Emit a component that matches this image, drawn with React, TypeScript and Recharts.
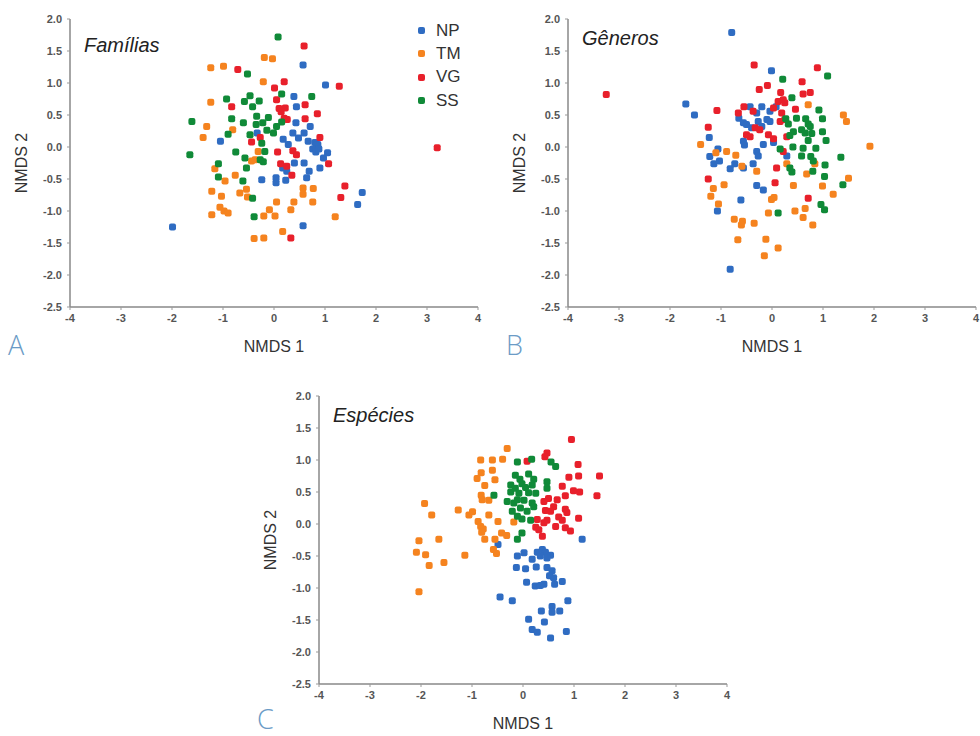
import React from 'react'
import { ScatterChart, Scatter, XAxis, YAxis } from 'recharts'

type Pt = [number, number]

// Famílias
const famNP: Pt[] = [
  [0.57, 1.28], [1.01, 0.97], [0.39, 0.79], [0.44, 0.63], [0.43, 0.38], [0.59, 0.22], [0.71, 0.32],
  [0.37, 0.22], [0.48, 0.14], [-0.33, 0.22], [-1.05, 0.09], [0.18, 0.12], [0.28, 0.04], [0.67, 0.09],
  [0.8, 0.07], [0.86, 0.04], [0.76, -0.03], [0.82, -0.08], [0.88, -0.03], [1.05, -0.09], [0.97, -0.17],
  [0.9, -0.33], [0.59, -0.25], [0.69, -0.38], [0.64, -0.48], [0.17, -0.33], [0.25, -0.38], [0.4, -0.25],
  [-0.24, -0.51], [0.04, -0.48], [0.04, -0.56], [0.23, -0.52], [-1.99, -1.25], [0.57, -1.23],
  [1.73, -0.71], [1.64, -0.9],
]
const famTM: Pt[] = [
  [-0.19, 1.4], [-0.03, 1.38], [-1.24, 1.24], [-0.99, 1.26], [-0.21, 1.02], [-1.24, 0.7], [-1.32, 0.32],
  [-1.39, 0.15], [-0.81, 0.27], [-0.31, -0.07], [-0.37, -0.2], [-0.44, -0.22], [-1.16, -0.34],
  [-0.96, -0.53], [-0.76, -0.44], [-1.22, -0.69], [-1.03, -0.77], [-0.67, -0.72], [-0.54, -0.66],
  [-0.52, -0.78], [-1.06, -0.94], [-0.98, -1.0], [-0.9, -1.03], [-1.22, -1.06], [-0.2, -1.08],
  [0.02, -1.08], [-0.09, -0.98], [0.05, -0.86], [0.39, -0.86], [0.33, -0.98], [0.57, -0.64],
  [0.57, -0.74], [0.77, -0.65], [0.76, -0.86], [1.2, -1.09], [0.17, -1.32], [-0.39, -1.43], [-0.2, -1.42],
]
const famVG: Pt[] = [
  [0.59, 1.58], [-0.71, 1.21], [0.2, 1.02], [1.28, 0.95], [0.01, 0.92], [-0.83, 0.63], [0.05, 0.74],
  [0.1, 0.6], [0.22, 0.61], [0.14, 0.55], [0.61, 0.66], [0.2, 0.45], [0.26, 0.43], [0.61, 0.44],
  [0.85, 0.52], [0.9, 0.15], [-0.44, 0.08], [-0.27, 0.15], [0.07, -0.08], [0.37, -0.06], [0.44, -0.12],
  [1.07, -0.26], [0.13, -0.26], [0.25, -0.3], [0.35, -0.44], [1.39, -0.61], [1.31, -0.79], [0.33, -1.42],
  [3.2, -0.01],
]
const famSS: Pt[] = [
  [0.08, 1.72], [-0.52, 1.14], [-0.93, 0.75], [-0.47, 0.8], [0.74, 0.79], [0.15, 0.83], [-1.61, 0.4],
  [-0.83, 0.44], [-0.6, 0.38], [-0.9, 0.2], [-1.65, -0.12], [-0.75, -0.08], [-0.57, -0.17], [-1.09, -0.26],
  [-0.54, -0.33], [-1.09, -0.47], [-0.61, -0.53], [-0.42, -0.8], [-0.39, -1.09], [-0.34, 0.48],
  [-0.11, 0.46], [-0.22, 0.38], [-0.35, 0.35], [-0.14, 0.26], [-0.01, 0.22], [0.05, 0.32], [0.15, 0.39],
  [-0.47, 0.19], [-0.58, 0.71], [-0.42, 0.63], [-0.29, 0.72], [-0.24, 0.06], [-0.18, -0.07],
  [-0.27, -0.2], [-0.21, -0.23],
]

// Gêneros
const genNP: Pt[] = [
  [-0.79, 1.79], [-1.69, 0.67], [-1.52, 0.5], [-0.65, 0.45], [-0.56, 0.38], [-1.23, 0.15], [-0.56, 0.09],
  [-0.54, 0.03], [-1.06, -0.03], [-1.22, -0.15], [-1.14, -0.26], [-1.03, -0.22], [-0.82, -0.34],
  [-0.73, -0.26], [-0.56, -0.33], [-0.61, -0.83], [-1.07, -1.0], [-0.82, -1.91], [-0.01, 1.19],
  [-0.43, 0.63], [-0.2, 0.63], [0.08, 0.63], [-0.3, 0.53], [-0.04, 0.56], [-0.5, 0.35], [-0.27, 0.4],
  [-0.1, 0.43], [-0.04, 0.4], [-0.4, 0.3], [-0.2, 0.32], [-0.17, 0.04], [0.03, 0.07], [-0.3, -0.07],
  [-0.27, -0.14], [0.29, -0.14], [-0.37, -0.26], [-0.3, -0.6], [-0.17, -0.67],
]
const genTM: Pt[] = [
  [-1.4, 0.04], [-1.1, -0.09], [-0.89, -0.07], [-0.71, -0.13], [-0.59, -0.3], [-1.15, -0.65],
  [-1.2, -0.77], [-0.94, -0.59], [-1.05, -0.89], [-0.74, -1.13], [-0.58, -1.16], [-0.6, -1.22],
  [0.71, 0.66], [1.4, 0.5], [1.46, 0.4], [1.92, 0.01], [0.29, -0.26], [0.84, -0.26], [-0.3, -0.38],
  [0.68, -0.42], [1.5, -0.49], [0.42, -0.6], [0.99, -0.61], [1.2, -0.74], [-0.01, -0.82], [0.04, -0.79],
  [-0.07, -1.03], [0.45, -1.0], [0.65, -0.96], [0.61, -1.1], [0.8, -1.22], [-0.35, -1.19],
  [-0.12, -1.44], [0.12, -1.58], [-0.67, -1.45], [-0.15, -1.7],
]
const genVG: Pt[] = [
  [-3.25, 0.82], [-1.08, 0.57], [-0.66, 0.53], [-0.55, 0.63], [-1.25, 0.31], [-0.5, 0.19], [-1.25, -0.5],
  [-0.35, 1.28], [0.89, 1.24], [-0.25, 0.9], [-0.09, 0.96], [0.59, 1.02], [0.17, 0.85], [0.61, 0.83],
  [0.75, 0.85], [0.12, 0.71], [0.22, 0.74], [0.25, 0.69], [-0.37, 0.56], [0.03, 0.61], [0.19, 0.53],
  [0.46, 0.59], [0.16, 0.4], [0.25, 0.43], [-0.33, 0.3], [-0.24, 0.27], [-0.43, 0.16], [-0.07, 0.19],
  [0.03, 0.13], [0.29, 0.16], [0.22, -0.07], [0.09, -0.33], [0.06, -0.56], [0.71, -0.8],
]
const genSS: Pt[] = [
  [0.21, 1.06], [1.09, 1.11], [0.39, 0.77], [0.92, 0.58], [0.27, 0.44], [0.32, 0.36], [0.48, 0.45],
  [0.66, 0.44], [0.71, 0.36], [0.75, 0.32], [0.99, 0.44], [0.42, 0.24], [0.58, 0.27], [0.65, 0.22],
  [0.78, 0.21], [0.99, 0.24], [0.35, 0.18], [0.71, 0.1], [1.06, 0.1], [0.16, -0.03], [0.41, 0.0],
  [0.61, -0.02], [0.86, -0.02], [0.58, -0.14], [0.76, -0.15], [0.81, -0.22], [1.35, -0.16], [0.35, -0.33],
  [0.39, -0.39], [1.04, -0.28], [0.8, -0.38], [1.03, -0.46], [1.39, -0.59], [0.96, -0.9], [1.03, -0.98],
  [0.12, -1.03],
]

// Espécies
const spNP: Pt[] = [
  [-0.49, -0.32], [-0.11, -0.5], [-0.13, -0.68], [-0.45, -1.14], [-0.21, -1.2], [1.16, -0.24],
  [0.02, -0.45], [0.28, -0.44], [0.38, -0.4], [0.44, -0.44], [0.54, -0.49], [0.34, -0.5], [0.18, -0.55],
  [0.47, -0.53], [0.05, -0.7], [0.26, -0.67], [0.47, -0.68], [0.57, -0.73], [0.52, -0.81], [0.6, -0.84],
  [0.07, -0.91], [0.24, -0.97], [0.34, -0.96], [0.41, -0.94], [0.62, -0.94], [0.77, -0.9], [0.88, -1.2],
  [0.57, -1.29], [0.36, -1.36], [0.57, -1.38], [0.72, -1.36], [0.11, -1.49], [0.42, -1.53],
  [0.18, -1.65], [0.28, -1.69], [0.85, -1.68], [0.54, -1.78],
]
const spTM: Pt[] = [
  [-0.31, 1.18], [-0.83, 1.0], [-0.6, 1.0], [-0.4, 1.01], [-0.82, 0.8], [-0.9, 0.71], [-0.6, 0.84],
  [-0.55, 0.69], [-0.75, 0.6], [-0.82, 0.45], [-0.8, 0.38], [-0.67, 0.37], [-1.93, 0.32], [-1.79, 0.14],
  [-1.27, 0.22], [-1.06, 0.14], [-0.99, 0.19], [-0.67, 0.14], [-0.88, 0.04], [-0.83, -0.04],
  [-0.78, -0.08], [-0.81, -0.13], [-0.49, 0.04], [-0.75, -0.24], [-0.55, -0.24], [-0.42, -0.14],
  [-0.32, -0.18], [-0.58, -0.4], [-0.52, -0.46], [-2.04, -0.26], [-1.65, -0.24], [-2.09, -0.44],
  [-1.91, -0.48], [-1.84, -0.65], [-1.55, -0.6], [-1.14, -0.49], [-2.04, -1.06], [-0.18, 0.03],
]
const spVG: Pt[] = [
  [0.95, 1.32], [0.47, 1.11], [0.43, 1.05], [0.08, 0.98], [1.08, 0.93], [1.09, 0.75], [0.9, 0.73],
  [1.5, 0.75], [0.77, 0.59], [0.99, 0.52], [1.11, 0.5], [1.45, 0.44], [0.83, 0.44], [0.67, 0.38],
  [0.5, 0.4], [0.41, 0.35], [0.6, 0.27], [0.54, 0.2], [0.44, 0.21], [0.83, 0.23], [0.86, 0.18],
  [0.7, 0.11], [0.77, 0.06], [1.09, 0.09], [0.28, 0.07], [0.47, 0.06], [0.41, 0.02], [0.25, -0.05],
  [0.31, -0.09], [0.64, -0.04], [0.83, -0.06], [0.93, -0.11], [0.38, -0.19],
]
const spSS: Pt[] = [
  [-0.11, 0.97], [-0.15, 0.76], [-0.24, 0.5], [-0.18, 0.33], [-0.31, 0.35], [-0.21, 0.2], [-0.11, -0.24],
  [-0.57, 0.45], [0.17, 1.01], [0.55, 0.97], [0.64, 0.9], [0.11, 0.78], [-0.06, 0.7], [0.21, 0.7],
  [0.47, 0.66], [0.47, 0.56], [-0.24, 0.61], [-0.15, 0.56], [-0.02, 0.63], [0.05, 0.57], [0.18, 0.61],
  [-0.08, 0.48], [0.11, 0.49], [0.25, 0.48], [-0.11, 0.38], [0.02, 0.37], [0.18, 0.33], [-0.05, 0.25],
  [0.08, 0.2], [0.21, 0.27], [-0.11, 0.12], [-0.02, 0.08], [0.15, 0.06], [-0.02, -0.14],
]

const groups = ['NP', 'TM', 'VG', 'SS']
const colors: Record<string, string> = { NP: '#2f6cc2', TM: '#f5831f', VG: '#e8202b', SS: '#108a38' }
const xTicks = [-4, -3, -2, -1, 0, 1, 2, 3, 4]
const yTicks = [-2.5, -2.0, -1.5, -1.0, -0.5, 0.0, 0.5, 1.0, 1.5, 2.0]

const FONT = '"Liberation Sans", Arial, sans-serif'
const toData = (pts: Pt[]) => pts.map(([x, y]) => ({ x, y }))

const square = (color: string) => (props: any) => (
  <rect x={props.cx - 3.5} y={props.cy - 3.5} width={7} height={7} rx={2} fill={color} />
)

interface PanelProps {
  left: number
  top: number
  title: string
  titleTop: number
  letter: string
  letterTop: number
  series: Record<string, Pt[]>
  legend?: boolean
}

function Panel({ left, top, title, titleTop, letter, letterTop, series, legend }: PanelProps) {
  const tick = { fill: '#555', fontSize: 11, fontWeight: 700, fontFamily: FONT }
  return (
    <div style={{ position: 'absolute', left, top, width: 490, height: 359 }}>
      <ScatterChart width={490} height={340} margin={{ top: 19, right: 12, bottom: 2, left: 0 }}>
        <XAxis
          type="number"
          dataKey="x"
          domain={[-4, 4]}
          ticks={xTicks}
          tick={tick}
          tickSize={3}
          tickMargin={4}
          height={31}
          axisLine={{ stroke: '#888', strokeWidth: 1.5 }}
          tickLine={{ stroke: '#999' }}
        />
        <YAxis
          type="number"
          dataKey="y"
          domain={[-2.5, 2]}
          ticks={yTicks}
          tick={tick}
          tickSize={3}
          tickMargin={5}
          width={70}
          tickFormatter={(v: number) => v.toFixed(1)}
          axisLine={{ stroke: '#888', strokeWidth: 1.5 }}
          tickLine={{ stroke: '#999' }}
        />
        {groups.map((g) => (
          <Scatter
            key={g}
            name={g}
            data={toData(series[g])}
            fill={colors[g]}
            shape={square(colors[g])}
            isAnimationActive={false}
          />
        ))}
      </ScatterChart>
      <div style={{ position: 'absolute', left: 84, top: titleTop, fontFamily: FONT, fontStyle: 'italic', fontSize: 20, lineHeight: 1, color: '#222' }}>
        {title}
      </div>
      <div style={{ position: 'absolute', left: 174, width: 200, textAlign: 'center', top: 339, fontFamily: FONT, fontSize: 16, lineHeight: 1, color: '#333' }}>
        NMDS 1
      </div>
      <div style={{ position: 'absolute', left: 22, top: 163, transform: 'translate(-50%, -50%) rotate(-90deg)', fontFamily: FONT, fontSize: 16, lineHeight: 1, color: '#333', whiteSpace: 'nowrap' }}>
        NMDS 2
      </div>
      <div style={{ position: 'absolute', left: 8, top: letterTop, fontFamily: '"Open Sans", sans-serif', fontWeight: 300, fontSize: 27, lineHeight: 1, color: '#6b9bc6' }}>
        {letter}
      </div>
      {legend && (
        <div style={{ position: 'absolute', left: 418, top: 19, fontFamily: FONT, fontSize: 17, color: '#333' }}>
          {groups.map((g) => (
            <div key={g} style={{ display: 'flex', alignItems: 'center', height: 23.3 }}>
              <span style={{ display: 'inline-block', width: 7, height: 7, borderRadius: 2, background: colors[g], marginRight: 11 }} />
              {g}
            </div>
          ))}
        </div>
      )}
    </div>
  )
}

export default function App() {
  return (
    <div style={{ position: 'absolute', left: 0, top: 0, width: 980, height: 736, background: '#fff', overflow: 'hidden' }}>
      <Panel left={0} top={0} title="Famílias" titleTop={35} letter="A" letterTop={331} legend
        series={{ NP: famNP, TM: famTM, VG: famVG, SS: famSS }} />
      <Panel left={498} top={0} title="Gêneros" titleTop={28} letter="B" letterTop={331}
        series={{ NP: genNP, TM: genTM, VG: genVG, SS: genSS }} />
      <Panel left={249} top={377} title="Espécies" titleTop={28} letter="C" letterTop={328}
        series={{ NP: spNP, TM: spTM, VG: spVG, SS: spSS }} />
    </div>
  )
}
